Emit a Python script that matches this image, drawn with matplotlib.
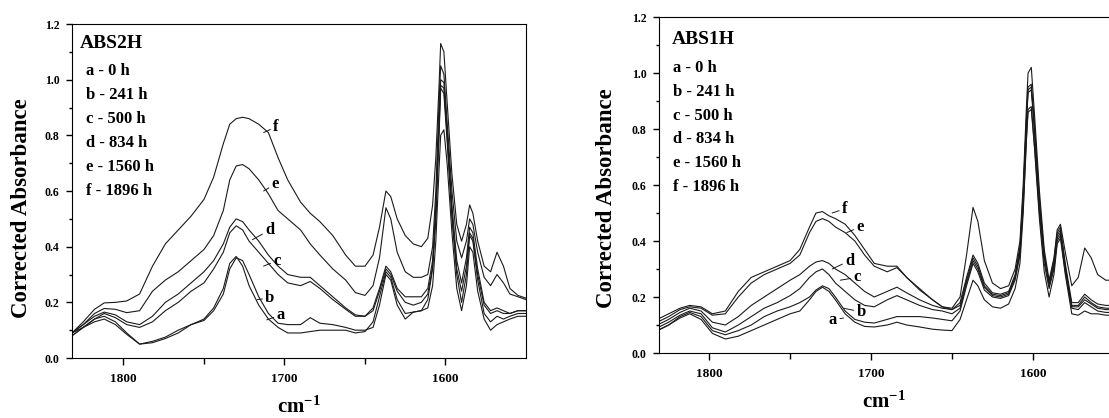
import matplotlib.pyplot as plt
import numpy as np

plt.rcParams['font.family'] = ['Liberation Serif', 'DejaVu Serif']
plt.rcParams['font.weight'] = 'bold'
plt.rcParams['mathtext.fontset'] = 'custom'
plt.rcParams['mathtext.rm'] = 'Liberation Serif:bold'
plt.rcParams['mathtext.bf'] = 'Liberation Serif:bold'

# wavenumber grid (cm-1), shared by both panels
wavenumber = [1832, 1825, 1818, 1812, 1805, 1798, 1790, 1782, 1774, 1766,
              1758, 1750, 1744, 1738, 1734, 1730, 1726, 1722, 1716, 1710,
              1704, 1698, 1690, 1684, 1678, 1670, 1662, 1656, 1650, 1645,
              1641, 1637, 1634, 1630, 1625, 1620, 1615, 1611, 1608, 1606,
              1604, 1603, 1601, 1599, 1596, 1593, 1590, 1587, 1585, 1583,
              1580, 1576, 1572, 1568, 1564, 1560, 1555, 1550]

# ABS2H spectra
abs2h_a = [0.09, 0.11, 0.13, 0.14, 0.12, 0.085, 0.05, 0.055, 0.07, 0.09,
           0.12, 0.135, 0.17, 0.23, 0.32, 0.36, 0.35, 0.30, 0.22, 0.16,
           0.125, 0.12, 0.12, 0.145, 0.125, 0.12, 0.11, 0.10, 0.10, 0.11,
           0.19, 0.30, 0.28, 0.19, 0.14, 0.165, 0.17, 0.18, 0.26, 0.42,
           0.68, 0.80, 0.82, 0.70, 0.45, 0.25, 0.17, 0.26, 0.40, 0.38,
           0.24, 0.14, 0.10, 0.12, 0.13, 0.14, 0.15, 0.15]
abs2h_b = [0.08, 0.11, 0.14, 0.15, 0.13, 0.09, 0.05, 0.06, 0.075, 0.10,
           0.12, 0.14, 0.18, 0.25, 0.34, 0.365, 0.33, 0.26, 0.19, 0.14,
           0.11, 0.09, 0.09, 0.095, 0.10, 0.10, 0.10, 0.09, 0.095, 0.13,
           0.22, 0.31, 0.29, 0.21, 0.16, 0.165, 0.17, 0.21, 0.32, 0.50,
           0.80, 0.97, 0.95, 0.78, 0.50, 0.30, 0.20, 0.30, 0.44, 0.42,
           0.28, 0.16, 0.13, 0.15, 0.14, 0.15, 0.16, 0.16]
abs2h_c = [0.08, 0.11, 0.14, 0.16, 0.145, 0.12, 0.11, 0.13, 0.17, 0.20,
           0.24, 0.27, 0.32, 0.38, 0.45, 0.475, 0.46, 0.42, 0.38, 0.34,
           0.30, 0.27, 0.26, 0.275, 0.25, 0.21, 0.175, 0.15, 0.15, 0.17,
           0.24, 0.32, 0.30, 0.24, 0.20, 0.19, 0.20, 0.23, 0.33, 0.52,
           0.82, 0.98, 0.97, 0.80, 0.52, 0.32, 0.24, 0.33, 0.45, 0.43,
           0.30, 0.19, 0.16, 0.17, 0.16, 0.16, 0.17, 0.17]
abs2h_d = [0.09, 0.12, 0.15, 0.165, 0.155, 0.13, 0.12, 0.15, 0.20, 0.23,
           0.27, 0.31, 0.35, 0.41, 0.47, 0.50, 0.49, 0.46, 0.42, 0.37,
           0.33, 0.30, 0.29, 0.29, 0.26, 0.22, 0.18, 0.155, 0.15, 0.18,
           0.25, 0.33, 0.31, 0.25, 0.22, 0.22, 0.22, 0.25, 0.35, 0.55,
           0.85, 1.00, 0.99, 0.82, 0.55, 0.35, 0.27, 0.36, 0.47, 0.45,
           0.32, 0.20, 0.17, 0.18, 0.17, 0.16, 0.17, 0.17]
abs2h_e = [0.09, 0.12, 0.16, 0.178, 0.175, 0.163, 0.17, 0.24, 0.28, 0.31,
           0.35, 0.39, 0.44, 0.53, 0.64, 0.69, 0.695, 0.68, 0.64, 0.59,
           0.53, 0.50, 0.46, 0.41, 0.37, 0.32, 0.28, 0.235, 0.225, 0.26,
           0.36, 0.54, 0.50, 0.38, 0.31, 0.29, 0.29, 0.30, 0.40, 0.60,
           0.92, 1.05, 1.02, 0.85, 0.60, 0.42, 0.36, 0.42, 0.50, 0.48,
           0.38, 0.29, 0.26, 0.30, 0.27, 0.23, 0.22, 0.21]
abs2h_f = [0.09, 0.13, 0.175, 0.198, 0.20, 0.205, 0.23, 0.33, 0.41, 0.46,
           0.51, 0.57, 0.65, 0.77, 0.84, 0.86, 0.865, 0.86, 0.84, 0.81,
           0.72, 0.64, 0.56, 0.52, 0.49, 0.44, 0.37, 0.33, 0.33, 0.37,
           0.47, 0.60, 0.58, 0.50, 0.44, 0.41, 0.40, 0.43, 0.55, 0.72,
           0.98, 1.13, 1.10, 0.92, 0.66, 0.48, 0.42, 0.48, 0.55, 0.52,
           0.42, 0.33, 0.31, 0.38, 0.33, 0.25, 0.225, 0.215]

# ABS1H spectra
abs1h_a = [0.08, 0.10, 0.125, 0.14, 0.12, 0.07, 0.05, 0.06, 0.08, 0.10,
           0.12, 0.14, 0.15, 0.19, 0.22, 0.235, 0.22, 0.19, 0.14, 0.11,
           0.095, 0.093, 0.10, 0.11, 0.10, 0.093, 0.085, 0.082, 0.08, 0.12,
           0.19, 0.26, 0.24, 0.19, 0.165, 0.16, 0.175, 0.23, 0.32, 0.50,
           0.76, 0.86, 0.87, 0.73, 0.48, 0.29, 0.20, 0.28, 0.39, 0.41,
           0.28, 0.14, 0.135, 0.15, 0.14, 0.14, 0.135, 0.135]
abs1h_b = [0.08, 0.10, 0.13, 0.145, 0.13, 0.08, 0.065, 0.08, 0.10, 0.13,
           0.15, 0.165, 0.18, 0.20, 0.225, 0.24, 0.23, 0.20, 0.15, 0.12,
           0.11, 0.107, 0.12, 0.13, 0.13, 0.13, 0.125, 0.12, 0.115, 0.15,
           0.24, 0.32, 0.29, 0.225, 0.20, 0.195, 0.205, 0.26, 0.35, 0.52,
           0.77, 0.87, 0.88, 0.74, 0.50, 0.32, 0.23, 0.30, 0.40, 0.42,
           0.29, 0.16, 0.155, 0.18, 0.165, 0.15, 0.145, 0.145]
abs1h_c = [0.09, 0.11, 0.135, 0.15, 0.14, 0.09, 0.075, 0.10, 0.13, 0.16,
           0.18, 0.205, 0.23, 0.27, 0.29, 0.30, 0.28, 0.25, 0.22, 0.19,
           0.17, 0.165, 0.19, 0.205, 0.19, 0.17, 0.155, 0.15, 0.14, 0.16,
           0.25, 0.33, 0.30, 0.235, 0.205, 0.20, 0.21, 0.27, 0.36, 0.55,
           0.82, 0.93, 0.94, 0.79, 0.53, 0.34, 0.24, 0.31, 0.41, 0.43,
           0.30, 0.165, 0.165, 0.19, 0.175, 0.16, 0.155, 0.155]
abs1h_d = [0.10, 0.12, 0.145, 0.16, 0.15, 0.11, 0.10, 0.13, 0.17, 0.20,
           0.23, 0.26, 0.28, 0.31, 0.325, 0.33, 0.32, 0.30, 0.28, 0.25,
           0.22, 0.20, 0.22, 0.235, 0.215, 0.19, 0.17, 0.16, 0.155, 0.17,
           0.26, 0.34, 0.31, 0.24, 0.21, 0.205, 0.215, 0.27, 0.37, 0.56,
           0.83, 0.94, 0.95, 0.80, 0.54, 0.35, 0.25, 0.32, 0.42, 0.44,
           0.31, 0.17, 0.17, 0.20, 0.18, 0.165, 0.16, 0.16]
abs1h_e = [0.11, 0.13, 0.155, 0.165, 0.16, 0.135, 0.14, 0.20, 0.25, 0.28,
           0.30, 0.32, 0.35, 0.43, 0.47, 0.48, 0.47, 0.45, 0.43, 0.40,
           0.35, 0.31, 0.29, 0.305, 0.27, 0.23, 0.19, 0.165, 0.155, 0.18,
           0.27, 0.35, 0.32, 0.25, 0.215, 0.21, 0.22, 0.28, 0.38, 0.57,
           0.84, 0.95, 0.96, 0.81, 0.55, 0.35, 0.25, 0.33, 0.43, 0.45,
           0.32, 0.18, 0.18, 0.21, 0.19, 0.175, 0.17, 0.17]
abs1h_f = [0.12, 0.14, 0.16, 0.17, 0.165, 0.14, 0.15, 0.22, 0.27, 0.29,
           0.31, 0.33, 0.37, 0.45, 0.50, 0.505, 0.49, 0.48, 0.46, 0.42,
           0.37, 0.32, 0.31, 0.31, 0.27, 0.225, 0.19, 0.165, 0.16, 0.20,
           0.35, 0.52, 0.47, 0.33, 0.25, 0.23, 0.24, 0.30, 0.40, 0.60,
           0.88, 1.00, 1.02, 0.85, 0.58, 0.37, 0.26, 0.34, 0.44, 0.46,
           0.36, 0.24, 0.27, 0.375, 0.34, 0.28, 0.26, 0.26]

legend_lines = ['a - 0 h', 'b - 241 h', 'c - 500 h', 'd - 834 h', 'e - 1560 h', 'f - 1896 h']

# curve letter labels: (letter, point on curve, text position)
labels_2h = [('f', (1713, 0.81), (1707, 0.83)),
             ('e', (1713, 0.60), (1708, 0.625)),
             ('d', (1720, 0.425), (1712, 0.46)),
             ('c', (1713, 0.33), (1707, 0.35)),
             ('b', (1717, 0.21), (1712, 0.215)),
             ('a', (1711, 0.137), (1705, 0.155))]
labels_1h = [('f', (1724, 0.50), (1718, 0.515)),
             ('e', (1715, 0.43), (1709, 0.45)),
             ('d', (1724, 0.30), (1716, 0.33)),
             ('c', (1719, 0.26), (1711, 0.27)),
             ('b', (1717, 0.16), (1709, 0.147)),
             ('a', (1717, 0.125), (1726, 0.118))]

fig = plt.figure(figsize=(11.09, 4.18), dpi=100)
ax1 = fig.add_axes([0.0649, 0.1435, 0.4094, 0.799])
ax2 = fig.add_axes([0.5942, 0.1555, 0.4058, 0.8038])

panels = [
    (ax1, 'ABS2H', [abs2h_a, abs2h_b, abs2h_c, abs2h_d, abs2h_e, abs2h_f], labels_2h,
     (1832, 1550), (0.018, 0.943), (0.031, 0.859, 0.0719), (-0.089, 0.449)),
    (ax2, 'ABS1H', [abs1h_a, abs1h_b, abs1h_c, abs1h_d, abs1h_e, abs1h_f], labels_1h,
     (1831, 1553), (0.029, 0.932), (0.031, 0.848, 0.0708), (-0.093, 0.461)),
]

for ax, name, spectra, labels, xlim, title_pos, leg, ylab_pos in panels:
    for s in spectra:
        ax.plot(wavenumber, s, color='#1a1a1a', lw=0.8)
    for letter, xy, xytext in labels:
        ax.annotate(letter, xy=xy, xytext=xytext, fontsize=12, fontweight='bold',
                    ha='left', va='center',
                    arrowprops=dict(arrowstyle='-', lw=0.7, color='#1a1a1a',
                                    shrinkA=0, shrinkB=0))
    ax.set_xlim(*xlim)
    ax.set_ylim(0, 1.2)
    ax.set_xticks([1800, 1700, 1600])
    ax.set_xticks([1750, 1650], minor=True)
    ax.set_yticks(np.arange(0, 1.21, 0.2))
    ax.set_yticks(np.arange(0.1, 1.2, 0.2), minor=True)
    ax.set_yticklabels(['%.1f' % v for v in np.arange(0, 1.21, 0.2)])
    ax.tick_params(axis='x', which='major', direction='out', length=5, width=1, labelsize=9.5, pad=6)
    ax.tick_params(axis='x', which='minor', direction='out', length=4, width=1)
    ax.tick_params(axis='y', which='major', direction='out', length=4, width=1, labelsize=8.5, pad=5)
    ax.tick_params(axis='y', which='minor', direction='out', length=2.5, width=1)
    for lab in ax.get_xticklabels() + ax.get_yticklabels():
        lab.set_fontweight('bold')
    ax.set_ylabel('Corrected Absorbance', fontsize=16.5, fontweight='bold')
    ax.yaxis.set_label_coords(*ylab_pos)
    ax.set_xlabel(r'$\mathbf{cm^{-1}}$', fontsize=15, labelpad=8)
    ax.text(title_pos[0], title_pos[1], name, transform=ax.transAxes, fontsize=14,
            fontweight='bold', ha='left', va='center')
    lx, ly, dy = leg
    for i, t in enumerate(legend_lines):
        ax.text(lx, ly - i * dy, t, transform=ax.transAxes, fontsize=12,
                fontweight='bold', ha='left', va='center')

ax2.spines['right'].set_visible(False)

fig.savefig('out.png', dpi=100, facecolor='white')
